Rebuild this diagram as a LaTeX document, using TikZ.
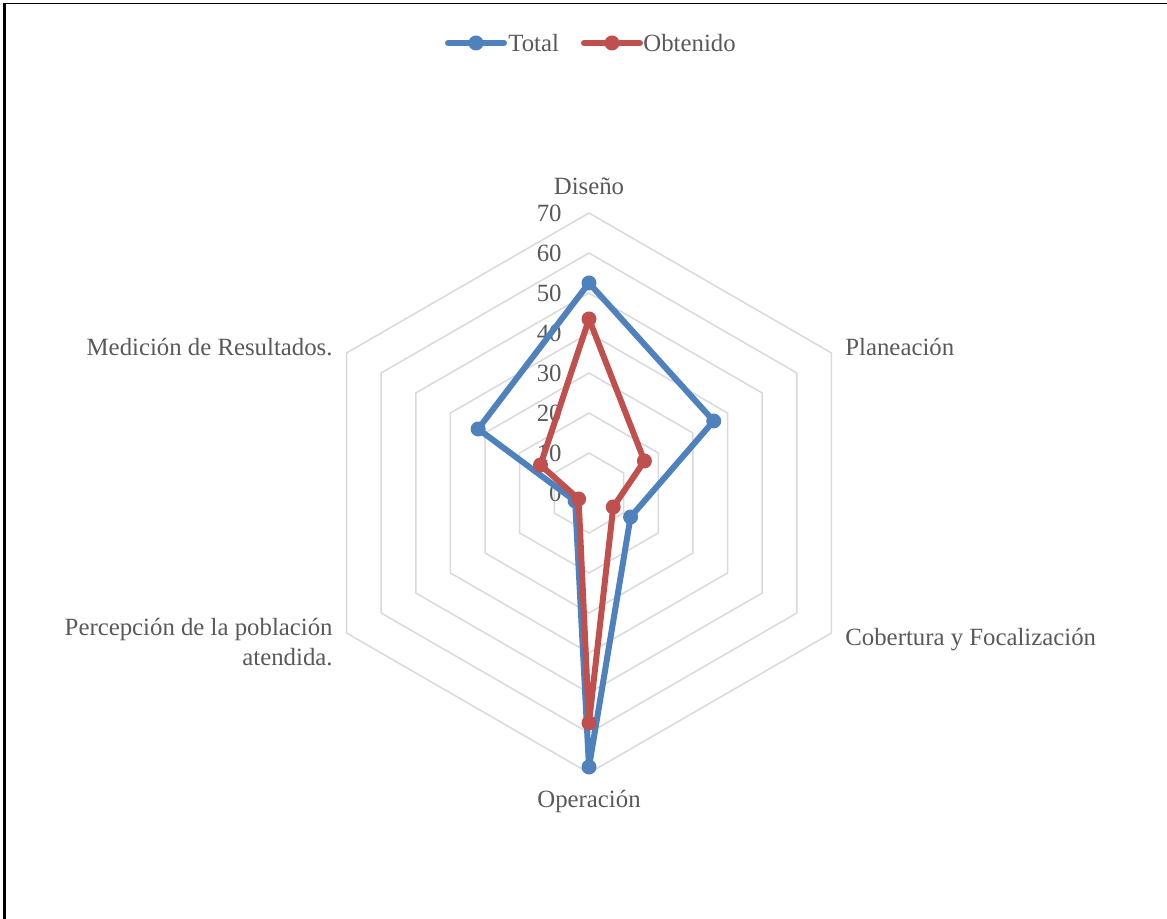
\documentclass[tikz,border=0pt]{standalone}
\usepackage{fontspec}
\setmainfont{Liberation Serif}
\usetikzlibrary{positioning}
\definecolor{totblue}{HTML}{4F81BD}
\definecolor{obtred}{HTML}{C0504D}
\definecolor{gridgray}{HTML}{D9D9D9}
\definecolor{txtgray}{HTML}{595959}
\tikzset{
	x=2pt,y=2pt,
	ring/.style={draw=gridgray, line width=0.75pt},
	serie/.style={line width=3pt, line join=round, line cap=round},
	marca/.style={circle, fill, inner sep=0pt, minimum size=7.5pt, node contents={}},
	lbl/.style={text=txtgray, font=\fontsize{12.4}{15}\selectfont, inner sep=0pt},
	ticklbl/.style={lbl, anchor=east, xshift=-13.5pt}
}
\begin{document}
\begin{tikzpicture}
	\useasboundingbox (-294.5pt,-213pt) rectangle (289pt,246.5pt);
	% marco
	\coordinate (esq1) at (-292.25pt,-213pt);
	\coordinate (esq2) at (-292.25pt,244.75pt);
	\coordinate (esq3) at (289pt,244.75pt);
	\draw[line width=1.5pt] (esq1) -- (esq2);
	\draw[line width=0.5pt] (esq2) -- (esq3);
	
	% anillos
	\foreach \r in {10,20,...,70}
		\draw[ring] (90:\r) \foreach \a in {30,-30,-90,-150,150}{ -- (\a:\r)} -- cycle;
	\foreach \r in {0,10,...,70}
		\node[ticklbl] (tk\r) at (90:\r) {\r};
	
	% categorias
	\node[lbl] (dis) at (0pt,153.5pt) {Diseño};
	\node[lbl, anchor=west] (pla) at (128pt,73pt) {Planeación};
	\node[lbl, anchor=west] (cob) at (128pt,-73.5pt) {Cobertura y Focalización};
	\node[lbl] (ope) at (0pt,-154.5pt) {Operación};
	\node[lbl, anchor=east, align=right] (per) at (-128pt,-74.5pt) {Percepción de la población\\atendida.};
	\node[lbl, anchor=east] (med) at (-128pt,73pt) {Medición de Resultados.};
	
	% Total
	\foreach \v [count=\i] in {52.5,36,12,68.5,4,32}
		\coordinate (t\i) at ({150-60*\i}:\v);
	\draw[serie, totblue] (t1) -- (t2) -- (t3) -- (t4) -- (t5) -- (t6) -- cycle;
	\foreach \i in {1,...,6}
		\node[marca, totblue, at={(t\i)}, name=mt\i];
	
	% Obtenido
	\foreach \v [count=\i] in {43.5,16,7,57.5,3,14}
		\coordinate (o\i) at ({150-60*\i}:\v);
	\draw[serie, obtred] (o1) -- (o2) -- (o3) -- (o4) -- (o5) -- (o6) -- cycle;
	\foreach \i in {1,...,6}
		\node[marca, obtred, at={(o\i)}, name=mo\i];
	
	% leyenda
	\coordinate (ltl) at (-70.5pt,225pt);
	\coordinate (ltr) at (-42.5pt,225pt);
	\draw[serie, totblue] (ltl) -- (ltr);
	\node[marca, totblue, at={(-56.5pt,225pt)}, name=ltm];
	\node[lbl, right=2pt of ltr] (ltot) {Total};
	\coordinate (lol) at (-2.5pt,225pt);
	\coordinate (lor) at (25.5pt,225pt);
	\draw[serie, obtred] (lol) -- (lor);
	\node[marca, obtred, at={(11.5pt,225pt)}, name=lom];
	\node[lbl, right=1.5pt of lor] (lobt) {Obtenido};
\end{tikzpicture}
\end{document}
